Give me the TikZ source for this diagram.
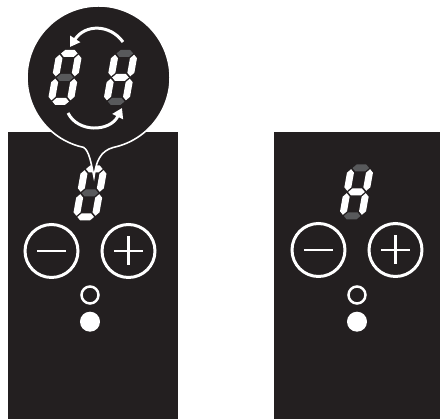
\documentclass[tikz,border=0pt]{standalone}
\usepackage{xcolor}
\usepackage{tikz}
\definecolor{panelBlack}{HTML}{231F20}
\definecolor{segOff}{HTML}{58595B}
\definecolor{segOn}{HTML}{FFFFFF}
\usetikzlibrary{arrows.meta}

\newcommand{\segT}{7}
\newcommand{\segG}{1.2}
% horizontal segment: x1, x2, y, colour
\newcommand{\hseg}[4]{\fill[#4] ({#1+\segG},#3) -- ({#1+\segG+\segT/2},{#3-\segT/2}) -- ({#2-\segG-\segT/2},{#3-\segT/2}) -- ({#2-\segG},#3) -- ({#2-\segG-\segT/2},{#3+\segT/2}) -- ({#1+\segG+\segT/2},{#3+\segT/2}) -- cycle;}
% vertical segment: x, y1, y2, colour
\newcommand{\vseg}[4]{\fill[#4] (#1,{#2+\segG}) -- ({#1+\segT/2},{#2+\segG+\segT/2}) -- ({#1+\segT/2},{#3-\segG-\segT/2}) -- (#1,{#3-\segG}) -- ({#1-\segT/2},{#3-\segG-\segT/2}) -- ({#1-\segT/2},{#2+\segG+\segT/2}) -- cycle;}
% seven segment digit: centre, then colours of a b c d e f g
\newcommand{\sevenseg}[8]{%
  \begin{scope}[shift={#1}, xslant=0.18]
    \hseg{-9.5}{9.5}{-24}{#2}
    \vseg{9.5}{-24}{0}{#3}
    \vseg{9.5}{0}{24}{#4}
    \hseg{-9.5}{9.5}{24}{#5}
    \vseg{-9.5}{0}{24}{#6}
    \vseg{-9.5}{-24}{0}{#7}
    \hseg{-9.5}{9.5}{0}{#8}
  \end{scope}}

\begin{document}
\begin{tikzpicture}[
  x=0.02cm, y=-0.02cm,
  panel/.style={fill=panelBlack},
  btn/.style={draw=white, line width=1.7pt},
  led/.style={draw=white, line width=1.4pt},
  bubble/.style={fill=panelBlack, draw=white, line width=0.9pt},
  cyclearrow/.style={-{Triangle[length=5.5pt, width=6.5pt]}, white, line width=1.7pt}
]
\useasboundingbox (0,0) rectangle (441,419);

% Key positions
\coordinate (minusL) at (51.5,251);
\coordinate (plusL) at (128.5,251);
\coordinate (ledL) at (90,295);
\coordinate (dotL) at (90,321.7);
\coordinate (minusR) at (318.5,250);
\coordinate (plusR) at (395.5,250);
\coordinate (ledR) at (357,295);
\coordinate (dotR) at (357,321.7);

% Left panel
\fill[panel] (8,132) rectangle (178.3,419);
\sevenseg{(90,193)}{segOn}{segOn}{segOn}{segOn}{segOn}{segOn}{segOff}
\draw[btn] (minusL) circle[radius=26.5];
\draw[btn] (minusL) ++(-14.5,0) -- ++(29,0);
\draw[btn] (plusL) circle[radius=26.5];
\draw[btn] (plusL) ++(-14.5,0) -- ++(29,0) (plusL) ++(0,-14.5) -- ++(0,29);
\draw[led] (ledL) circle[radius=8.5];
\fill[white] (dotL) circle[radius=10];

% Right panel
\fill[panel] (274,132) rectangle (440.5,419);
\sevenseg{(356.5,192)}{segOff}{segOn}{segOn}{segOff}{segOn}{segOn}{segOn}
\draw[btn] (minusR) circle[radius=26.5];
\draw[btn] (minusR) ++(-14.5,0) -- ++(29,0);
\draw[btn] (plusR) circle[radius=26.5];
\draw[btn] (plusR) ++(-14.5,0) -- ++(29,0) (plusR) ++(0,-14.5) -- ++(0,29);
\draw[led] (ledR) circle[radius=8.5];
\fill[white] (dotR) circle[radius=10];

% Magnified display with its pointer
\filldraw[bubble] (113.4,147.4) arc[start angle=78, end angle=-258, radius=71.5]
  .. controls (89,151) and (91,162) .. (94,177)
  .. controls (96,162) and (100,151) .. cycle;
\sevenseg{(65,77.5)}{segOn}{segOn}{segOn}{segOn}{segOn}{segOn}{segOff}
\sevenseg{(120.5,77.5)}{segOff}{segOn}{segOn}{segOff}{segOn}{segOn}{segOn}

% Alternating arrows
\draw[cyclearrow] (123,42) .. controls (110,24) and (85,24) .. (70,47);
\draw[cyclearrow] (68,113) .. controls (78,133) and (110,132) .. (122,108);

\end{tikzpicture}
\end{document}
